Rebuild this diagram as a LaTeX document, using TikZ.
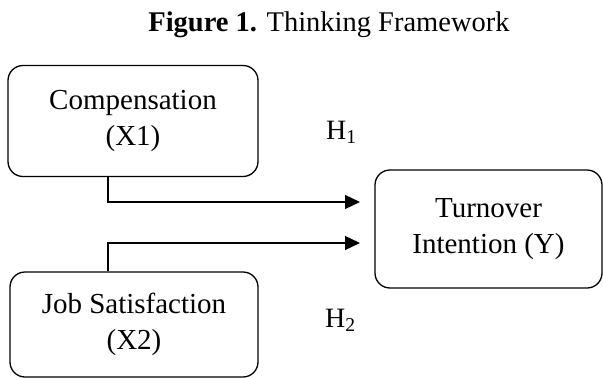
\documentclass[tikz,border=0pt]{standalone}
\usepackage{fontspec}
\setmainfont{Liberation Serif}
\usetikzlibrary{arrows.meta}
\begin{document}
\begin{tikzpicture}[x=1pt,y=-1pt,
  boxstyle/.style={draw, line width=1.3pt, rounded corners=15pt, align=center, inner sep=0pt,
    font=\fontsize{29}{36}\selectfont},
  arr/.style={line width=1.3pt, -{Triangle[length=15pt,width=14pt]}},
  hlabel/.style={font=\fontsize{28}{34}\selectfont, anchor=base west, inner sep=0pt}]
\useasboundingbox (0,0) rectangle (603,378);
\node[font=\fontsize{28.5}{34}\selectfont, anchor=base, inner sep=0pt] (title) at (329,31) {\textbf{Figure 1.} Thinking Framework};
\node[boxstyle, minimum width=250pt, minimum height=111pt] (x1) at (133,121) {Compensation\\(X1)};
\node[boxstyle, minimum width=248pt, minimum height=105pt] (x2) at (134,324.5) {Job Satisfaction\\(X2)};
\node[boxstyle, minimum width=227pt, minimum height=118pt] (y) at (488.5,229) {Turnover\\Intention (Y)};
\coordinate (a1) at (360,202);
\coordinate (a2) at (360,243);
\coordinate (c) at (108,0);
\draw[arr] (c |- x1.south) |- (a1);
\draw[arr] (c |- x2.north) |- (a2);
\node[hlabel] (h1) at (326,139) {H\textsubscript{1}};
\node[hlabel] (h2) at (325,327) {H\textsubscript{2}};
\end{tikzpicture}
\end{document}
